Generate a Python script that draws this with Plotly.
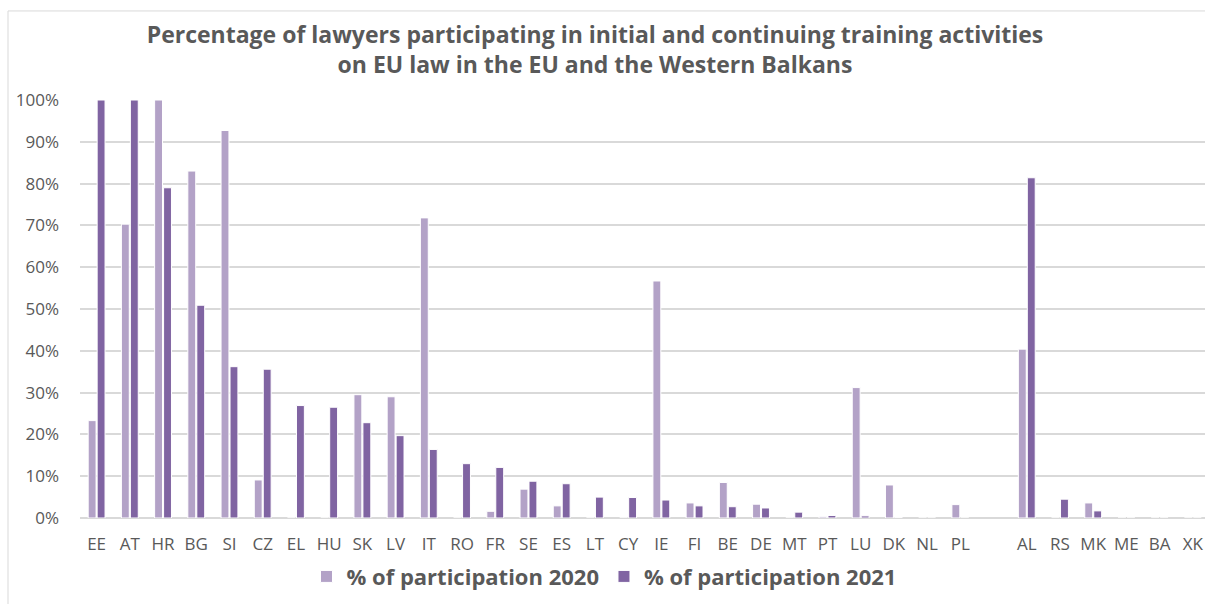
import plotly.graph_objects as go

countries = ["EE", "AT", "HR", "BG", "SI", "CZ", "EL", "HU", "SK", "LV", "IT", "RO", "FR", "SE",
             "ES", "LT", "CY", "IE", "FI", "BE", "DE", "MT", "PT", "LU", "DK", "NL", "PL",
             " ", "AL", "RS", "MK", "ME", "BA", "XK"]

part_2020 = [23.3, 70.3, 100, 83.0, 92.7, 9.1, 0, 0, 29.5, 29.0, 71.8, 0, 1.6, 6.9,
             2.9, 0, 0, 56.7, 3.6, 8.5, 3.3, 0, 0.3, 31.2, 7.9, 0, 3.2,
             None, 40.4, 0, 3.6, 0, 0, 0]
part_2021 = [100, 100, 79.0, 50.9, 36.2, 35.6, 26.9, 26.5, 22.8, 19.7, 16.4, 13.0, 12.1, 8.8,
             8.2, 5.0, 4.9, 4.3, 2.9, 2.7, 2.4, 1.4, 0.6, 0.5, 0.1, 0, 0,
             None, 81.4, 4.5, 1.7, 0, 0, 0]

grey = "#595959"
fnt = "Open Sans"

fig = go.Figure()
fig.add_trace(go.Bar(x=countries, y=part_2020, name="% of participation 2020",
                     marker=dict(color="#B3A2C7", line=dict(color="white", width=1))))
fig.add_trace(go.Bar(x=countries, y=part_2021, name="% of participation 2021",
                     marker=dict(color="#8064A2", line=dict(color="white", width=1))))

fig.update_layout(
    width=1205, height=604,
    margin=dict(l=80, r=0, t=100, b=86),
    paper_bgcolor="white", plot_bgcolor="white",
    font=dict(family=fnt, color=grey),
    title=dict(text="<b>Percentage of lawyers participating in initial and continuing training activities<br>on EU law in the EU and the Western Balkans</b>",
               x=595 / 1205, xanchor="center", y=0.928, yanchor="top",
               font=dict(size=23, family=fnt, color=grey)),
    barmode="group", bargap=0.46, bargroupgap=0.12,
    showlegend=True,
    legend=dict(orientation="h", x=(604 - 80) / 1125, xanchor="center", y=-0.09, yanchor="top",
                font=dict(size=22, family=fnt, color=grey, weight="bold"), itemwidth=30,
                traceorder="normal"),
    shapes=[dict(type="rect", xref="paper", yref="paper", x0=-0.064, x1=1.05, y0=-0.3, y1=1.213,
                 line=dict(color="#D9D9D9", width=1), layer="below")],
)
fig.update_xaxes(type="category", categoryorder="array", categoryarray=countries,
                 range=[-0.5, 33.365], showgrid=False, showline=False, ticks="",
                 tickfont=dict(size=17, color=grey), ticklabelstandoff=14, tickangle=0)
fig.update_yaxes(range=[0, 100], dtick=10, ticksuffix="%", showgrid=True, gridcolor="#D9D9D9",
                 gridwidth=1.5, zeroline=True, zerolinecolor="#D9D9D9", zerolinewidth=1.5,
                 tickfont=dict(size=17, color=grey), ticklabelstandoff=20)

fig.write_html("out.html", config={"displayModeBar": False},
               post_script="document.body.style.margin='0';")
